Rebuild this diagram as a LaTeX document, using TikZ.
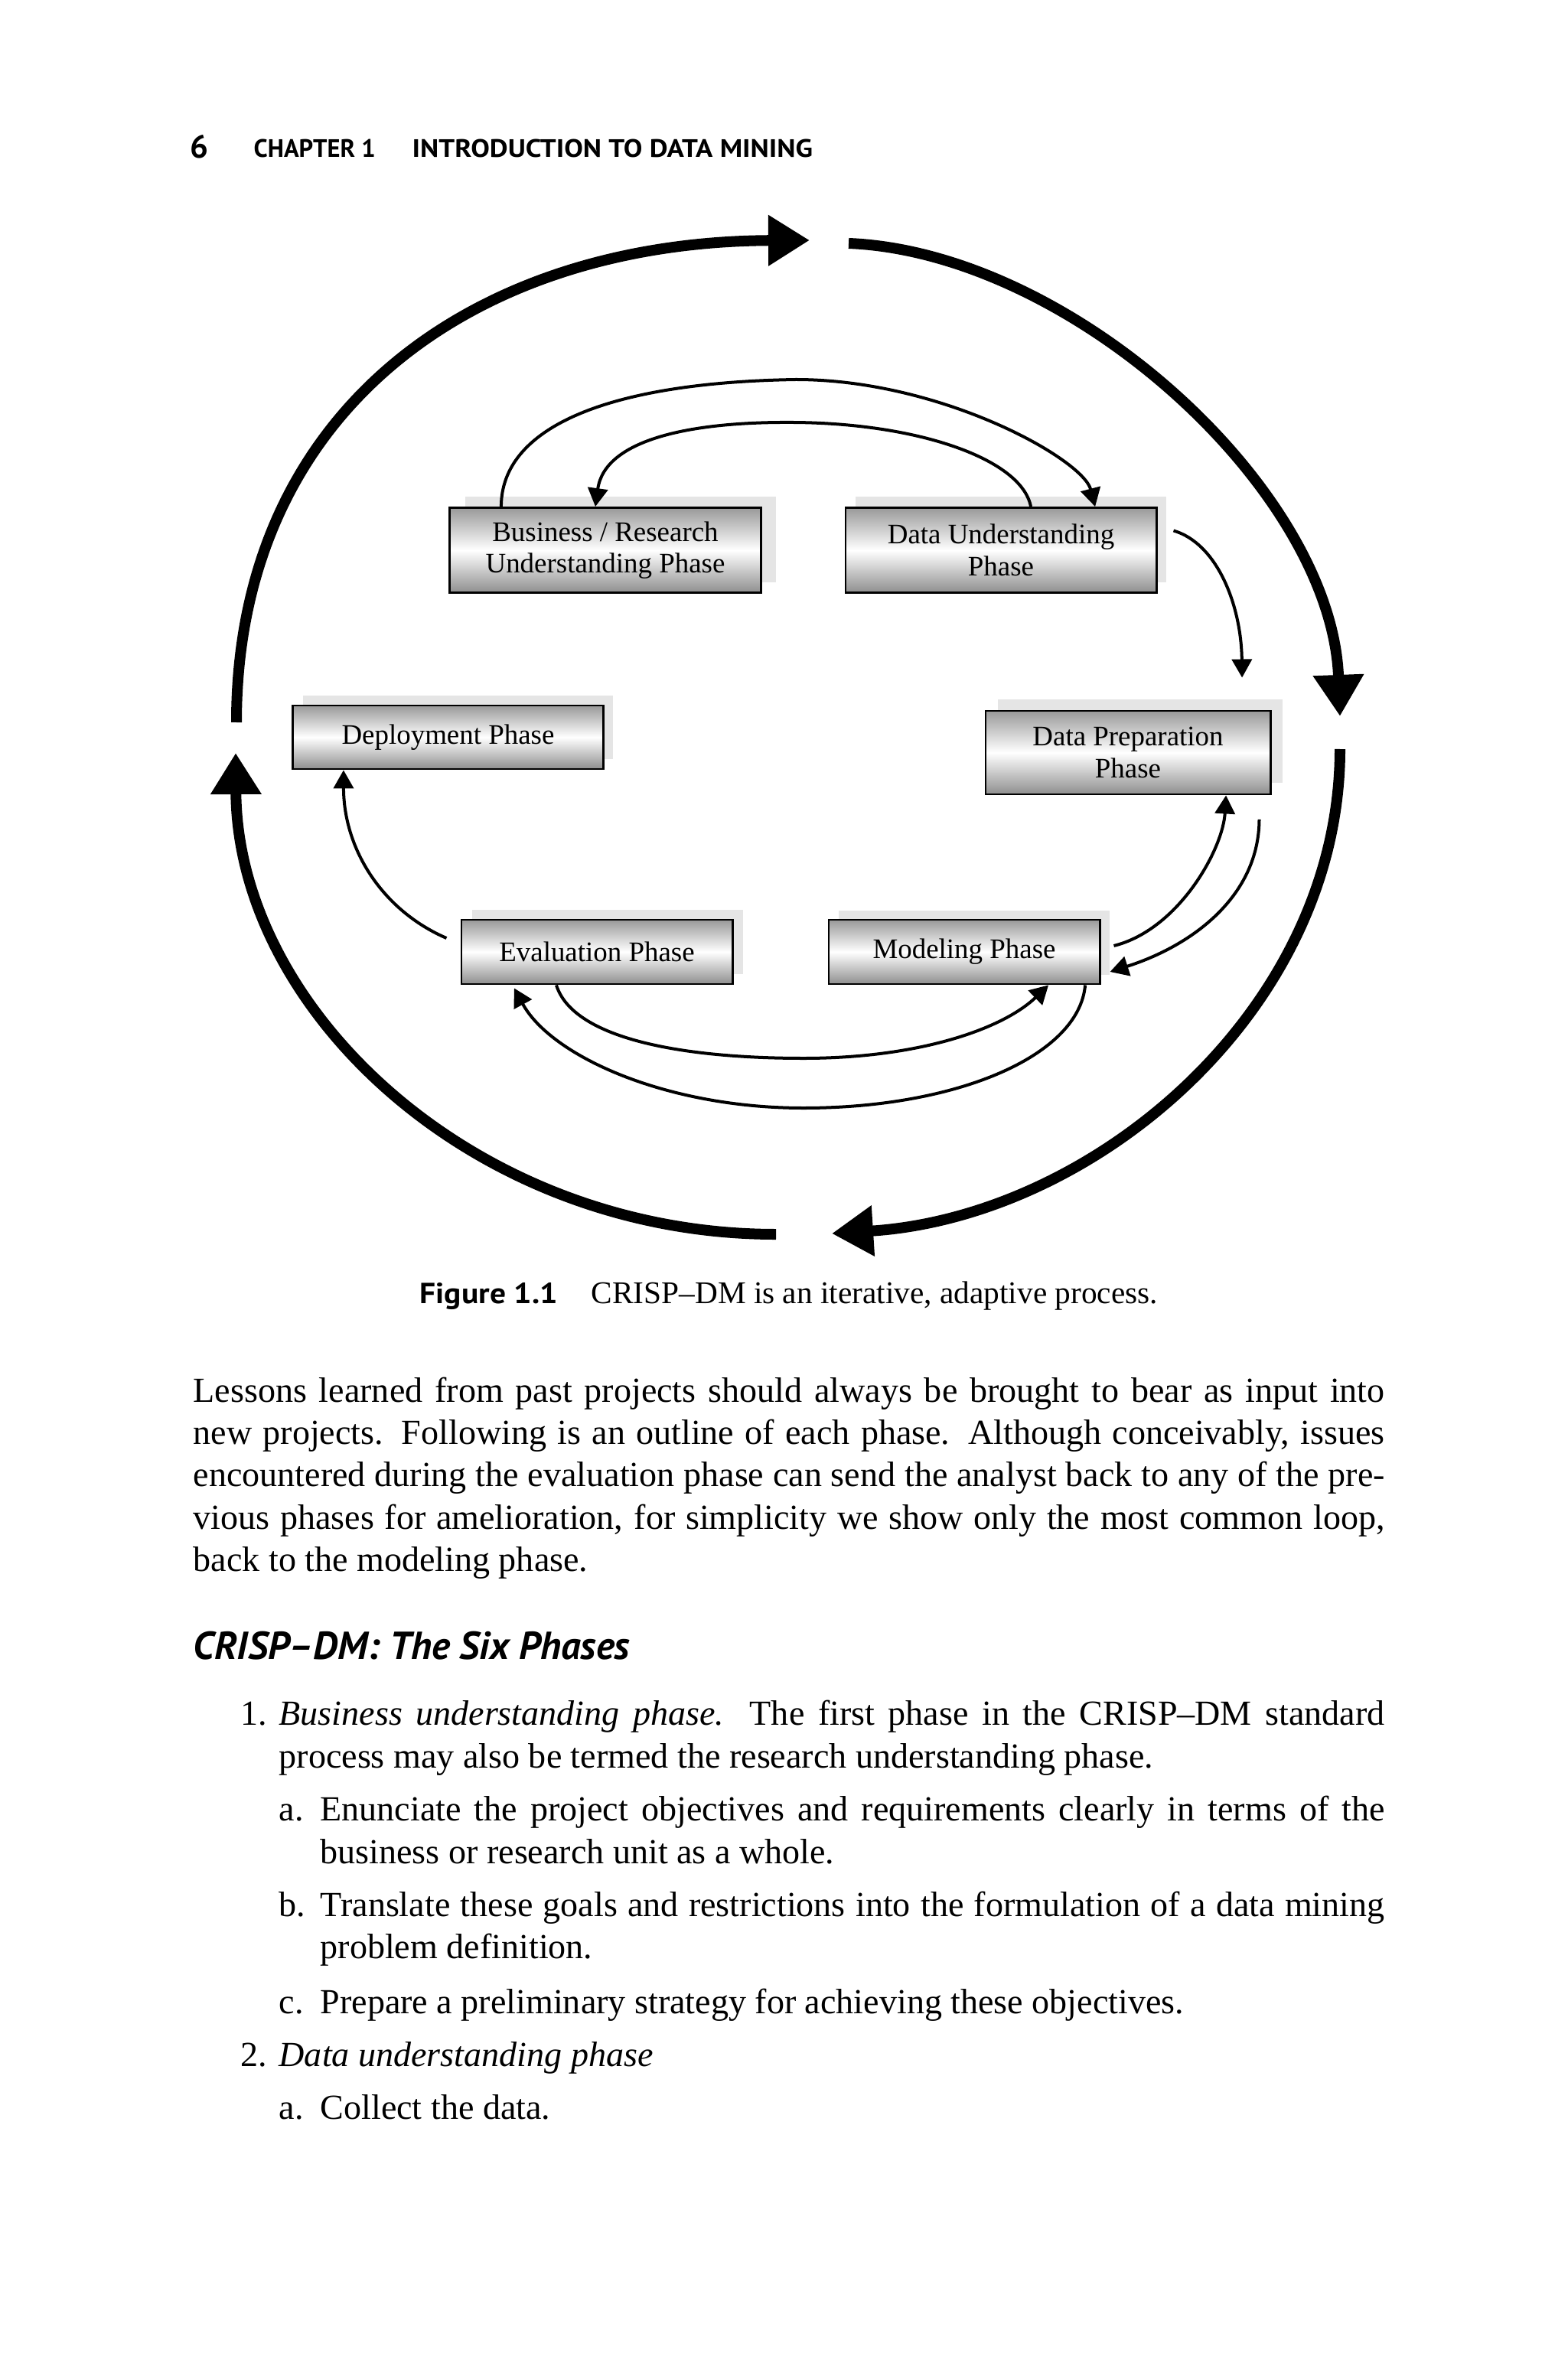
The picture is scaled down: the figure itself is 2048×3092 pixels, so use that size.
\documentclass[tikz,border=0pt]{standalone}
\usepackage{fontspec}
\setmainfont{Liberation Serif}
\setsansfont{PT Sans}
\usetikzlibrary{arrows.meta,shadows}
\newcommand\jl[2]{\makebox[#1][s]{#2}}
\tikzset{
  box/.style={draw=black, line width=0.028cm, top color=black!40, bottom color=black!44, middle color=white,
    inner sep=0pt, align=center, font=\fontsize{10.5}{11.8}\selectfont},
  shad/.style 2 args={drop shadow={shadow xshift=#1cm, shadow yshift=#2cm, fill=black!10, opacity=1}},
  conn/.style={line width=0.04cm, -{Triangle[length=0.24cm,width=0.26cm]}},
  big/.style={line width=0.14cm, -{Triangle[length=0.54cm,width=0.63cm]}},
  body/.style={anchor=base west, inner sep=0pt, font=\fontsize{13.1}{15.7}\selectfont},
  txt/.style={anchor=base west, inner sep=0pt}
}
\begin{document}
\begin{tikzpicture}[x=0.01cm,y=-0.01cm]
\useasboundingbox (0,0) rectangle (2048,3092);
\fill[white] (0,0) rectangle (2048,3092);

% header
\node[txt, font=\sffamily\bfseries\fontsize{12}{13}\selectfont] (pgno) at (248,207) {6};
\node[txt] (chap) at (331,206) {\resizebox{1.59cm}{0.235cm}{\sffamily\bfseries CHAPTER 1}};
\node[txt] (title) at (538,206) {\resizebox{5.23cm}{0.235cm}{\sffamily\bfseries INTRODUCTION TO DATA MINING}};

% big cycle
\draw[big] (309,944) .. controls (309,540) and (615,316) .. (1058,314);
\draw[big] (1109,318) .. controls (1400,330) and (1740,640) .. (1751,936);
\draw[big] (1751,979) .. controls (1751,1320) and (1430,1590) .. (1087,1612);
\draw[big] (1014,1613) .. controls (620,1613) and (310,1320) .. (308,984);

% phase boxes
\node[box, shad={0.20}{0.14}, minimum width=4.06cm, minimum height=1.11cm] (br) at (791,719) {Business / Research\\Understanding Phase};
\node[box, shad={0.13}{0.14}, minimum width=4.06cm, minimum height=1.11cm] (du) at (1308,719) {Data Understanding\\Phase};
\node[box, shad={0.13}{0.13}, minimum width=4.05cm, minimum height=0.83cm] (de) at (585.5,963.5) {Deployment Phase};
\node[box, shad={0.16}{0.15}, minimum width=3.72cm, minimum height=1.09cm] (dp) at (1474,983.5) {Data Preparation\\Phase};
\node[box, shad={0.14}{0.13}, minimum width=3.54cm, minimum height=0.84cm] (ev) at (780,1244) {Evaluation Phase};
\node[box, shad={0.13}{0.12}, minimum width=3.54cm, minimum height=0.84cm] (mo) at (1260,1244) {Modeling Phase};

% connectors
\draw[conn] ([xshift=-1.36cm]br.north) .. controls (655,560) and (790,500) .. (1040,496)
  .. controls (1230,496) and (1415,600) .. ([xshift=1.23cm]du.north);
\draw[conn] ([xshift=0.39cm]du.north) .. controls (1335,600) and (1200,553) .. (1036,552)
  .. controls (900,551) and (790,575) .. ([xshift=-0.13cm]br.north);
\draw[conn] ([xshift=0.21cm,yshift=0.255cm]du.east) .. controls (1590,710) and (1622,790) .. ([xshift=1.49cm,yshift=0.42cm]dp.north);
\draw[conn] ([xshift=0.17cm,yshift=0.08cm]mo.east) .. controls (1540,1215) and (1598,1110) .. ([xshift=1.28cm]dp.south);
\draw[conn] ([xshift=-0.16cm,yshift=-0.315cm]dp.south east) .. controls (1645,1170) and (1560,1235) .. ([xshift=0.12cm,yshift=-0.26cm]mo.east);
\draw[conn] ([xshift=-0.18cm,yshift=0.18cm]ev.west) .. controls (500,1190) and (449,1110) .. ([xshift=-1.365cm]de.south);
\draw[conn] ([xshift=-0.53cm]ev.south) .. controls (750,1360) and (900,1383) .. (1050,1383)
  .. controls (1200,1383) and (1310,1345) .. ([xshift=1.10cm]mo.south);
\draw[conn] ([xshift=1.58cm]mo.south) .. controls (1410,1380) and (1250,1448) .. (1050,1448)
  .. controls (870,1448) and (720,1380) .. ([xshift=-1.08cm,yshift=-0.04cm]ev.south);

% caption
\node[txt] (figlab) at (548,1703) {\resizebox{1.80cm}{0.27cm}{\sffamily\bfseries Figure 1.1}};
\node[txt, font=\fontsize{11.75}{14}\selectfont] (figcap) at (772,1703) {CRISP–DM is an iterative, adaptive process.};

% paragraph
\node[body] (p1) at (252,1832) {\jl{15.56cm}{Lessons learned from past projects should always be brought to bear as input into}};
\node[body] (p2) at (252,1887) {\jl{15.56cm}{new projects. Following is an outline of each phase. Although conceivably, issues}};
\node[body] (p3) at (252,1942) {\jl{15.56cm}{encountered during the evaluation phase can send the analyst back to any of the pre-}};
\node[body] (p4) at (252,1998) {\jl{15.56cm}{vious phases for amelioration, for simplicity we show only the most common loop,}};
\node[body] (p5) at (252,2053) {back to the modeling phase.};

% heading
\node[txt] (head) at (252,2168) {\resizebox{5.70cm}{!}{\sffamily\bfseries\itshape CRISP–DM: The Six Phases}};

% list
\node[body] (n1) at (314,2254) {1.};
\node[body] (l1a) at (364,2254) {\jl{14.44cm}{\textit{Business understanding phase.} The first phase in the CRISP–DM standard}};
\node[body] (l1b) at (364,2310) {process may also be termed the research understanding phase.};
\node[body] (na) at (364,2379) {a.};
\node[body] (la1) at (418,2379) {\jl{13.90cm}{Enunciate the project objectives and requirements clearly in terms of the}};
\node[body] (la2) at (418,2435) {business or research unit as a whole.};
\node[body] (nb) at (364,2504) {b.};
\node[body] (lb1) at (418,2504) {\jl{13.90cm}{Translate these goals and restrictions into the formulation of a data mining}};
\node[body] (lb2) at (418,2559) {problem definition.};
\node[body] (nc) at (364,2631) {c.};
\node[body] (lc1) at (418,2631) {Prepare a preliminary strategy for achieving these objectives.};
\node[body] (n2) at (314,2700) {2.};
\node[body] (l2) at (364,2700) {\textit{Data understanding phase}};
\node[body] (n2a) at (364,2769) {a.};
\node[body] (l2a) at (418,2769) {Collect the data.};
\end{tikzpicture}
\end{document}
